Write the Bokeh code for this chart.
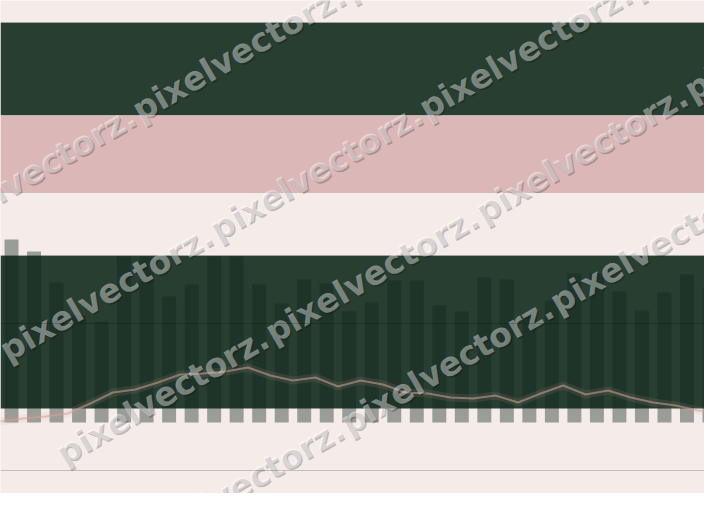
import math
from bokeh.plotting import figure
from bokeh.models import Range1d, BoxAnnotation, Span, ColumnDataSource
from bokeh.core.properties import value
from bokeh.embed import file_html
from bokeh.resources import INLINE

# ---------------- data ----------------
periods = list(range(32))
bar_values = [183, 171, 140, 107, 101, 166, 166, 126, 138, 166, 166, 138, 119, 143, 139, 111,
              120, 142, 142, 117, 111, 145, 143, 106, 122, 149, 149, 131, 112, 130, 148, 135]
line_x = [i - 0.5 for i in range(33)]
line_values = [1, 4, 6, 9, 19, 30, 33, 40, 48, 49, 51, 55, 47, 42, 45, 36, 42,
               38, 30, 29, 25, 24, 27, 20, 29, 37, 28, 32, 25, 20, 17, 12, 10]
grid_values = [99, -48]
watermark_word = "pixelvectorz."

# ---------------- figure ----------------
BG = "#f5ecea"
p = figure(width=704, height=493, output_backend="svg", toolbar_location=None,
           x_range=Range1d(-0.4885, 30.778), y_range=Range1d(-71, 422),
           min_border=0, outline_line_color=None,
           background_fill_color=BG, border_fill_color=BG)
p.axis.visible = False
p.grid.visible = False

# bands
p.add_layout(BoxAnnotation(bottom=307, top=400, fill_color="#273e31", fill_alpha=1,
                           line_color=None, level="underlay"))
p.add_layout(BoxAnnotation(bottom=230, top=307, fill_color="#dbb8b7", fill_alpha=1,
                           line_color=None, level="underlay"))
p.add_layout(BoxAnnotation(bottom=14, top=167, fill_color="#273e31", fill_alpha=1,
                           line_color=None, level="underlay"))
# band edges
for yv, col, al in [(400, "#ffffff", 0.15), (307, "#ffffff", 0.15), (230, "#000000", 0.1),
                    (167, "#ffffff", 0.15)]:
    p.add_layout(Span(location=yv, dimension="width", line_color=col, line_alpha=al,
                      line_width=1, level="underlay"))

# bars
p.vbar(x=periods, top=bar_values, bottom=0, width=0.62, fill_color="#11261d",
       fill_alpha=0.4, line_color=None)

# grid lines
for g in grid_values:
    p.add_layout(Span(location=g, dimension="width", line_color="#000000",
                      line_alpha=0.2, line_width=1))

# line with halo
p.line(line_x, line_values, line_color="#cfa298", line_alpha=0.12, line_width=8,
       line_join="round")
p.line(line_x, line_values, line_color="#cfa298", line_alpha=0.56, line_width=2,
       line_join="round")

# watermark (diagonal repeated text)
def px_to_data(xp, yp):
    return (xp - 11) / 22.516, 422 - yp

row_starts = [(-75, 233), (2, 352), (58, 455), (133, 546)]
ang = 30.0
period = 242.0
wx, wy = [], []
for (x0, y0) in row_starts:
    for k in range(0, 5):
        xp = x0 + k * period * math.cos(math.radians(ang))
        yp = y0 - k * period * math.sin(math.radians(ang))
        if -300 < xp < 720 and -60 < yp < 640:
            dx, dy = px_to_data(xp, yp)
            wx.append(dx)
            wy.append(dy)
src = ColumnDataSource(dict(x=wx, y=wy, t=[watermark_word] * len(wx)))
p.text(x="x", y="y", text="t", source=src, angle=ang, angle_units="deg",
       text_font=value("DejaVu Sans"), text_font_style="bold", text_font_size="33px",
       text_baseline="middle", text_align="left", text_color="#000000", text_alpha=0.22,
       x_offset=1.5, y_offset=1.5)
p.text(x="x", y="y", text="t", source=src, angle=ang, angle_units="deg",
       text_font=value("DejaVu Sans"), text_font_style="bold", text_font_size="33px",
       text_baseline="middle", text_align="left", text_color="#ffffff", text_alpha=0.42)

open("out.html", "w").write(file_html(p, INLINE))
